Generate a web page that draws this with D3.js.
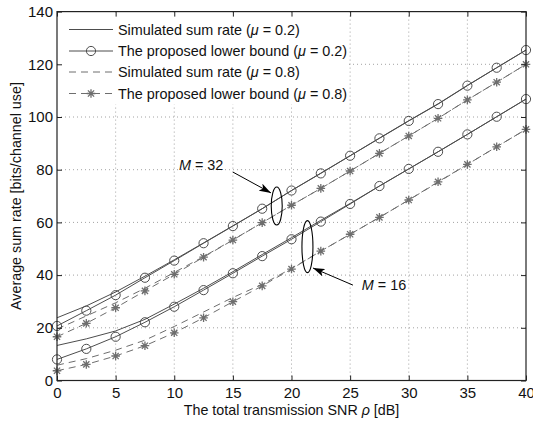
<!DOCTYPE html>
<html><head><meta charset="utf-8">
<script src="https://cdn.jsdelivr.net/npm/d3@7/dist/d3.min.js"></script>
<style>body{margin:0;background:#fff}svg text{font-family:"Liberation Sans",Arial,sans-serif}</style>
</head><body><svg id="c" width="533" height="421"></svg>
<script>
const snr = [0,2.5,5,7.5,10,12.5,15,17.5,20,22.5,25,27.5,30,32.5,35,37.5,40];
const sim02_M32 = [23.8,28.3,33.6,39.6,45.8,52.2,58.7,65.2,72.1,78.7,85.3,92.0,98.6,105.0,112.0,118.7,125.4];
const lb02_M32  = [20.7,26.5,32.4,39.0,45.5,52.1,58.6,65.2,72.1,78.6,85.3,91.9,98.5,104.9,111.9,118.7,125.4];
const sim08_M32 = [19.5,24.5,29.5,35.0,41.0,47.0,53.4,59.9,66.5,72.9,79.5,86.2,92.8,99.5,106.5,113.2,120.0];
const lb08_M32  = [16.6,21.7,27.6,34.0,40.3,46.8,53.3,59.9,66.5,72.9,79.5,86.2,92.8,99.5,106.5,113.2,120.0];
const sim02_M16 = [13.3,15.8,18.8,23.2,29.0,35.0,41.3,47.8,54.2,60.8,67.2,73.8,80.3,86.8,93.4,100.1,106.8];
const lb02_M16  = [8.0,12.0,16.6,22.1,28.0,34.3,40.7,47.2,53.6,60.3,67.0,73.8,80.3,86.8,93.4,100.1,106.8];
const sim08_M16 = [5.8,8.3,11.5,15.3,20.5,26.0,31.5,36.5,42.5,49.1,55.5,61.9,68.5,75.2,82.0,88.7,95.3];
const lb08_M16  = [3.7,6.1,9.3,13.2,18.1,23.8,29.9,35.9,42.3,49.1,55.5,61.9,68.5,75.4,82.0,88.7,95.3];
const xTicks = [0,5,10,15,20,25,30,35,40];
const yTicks = [0,20,40,60,80,100,120,140];
const legendLabels = ["Simulated sum rate (", "The proposed lower bound (", "Simulated sum rate (", "The proposed lower bound ("];
const legendMu = ["0.2","0.2","0.8","0.8"];

const svg = d3.select("#c");
const L=57, R=526, T=11.6, B=380.5;
const x = d3.scaleLinear().domain([0,40]).range([L,R]);
const y = d3.scaleLinear().domain([0,140]).range([B,T]);
const dark="#4d4d4d", grey="#6e6e6e";

// grid
const g = svg.append("g");
g.selectAll(".gx").data(xTicks.slice(1,-1)).enter().append("line")
 .attr("x1",d=>x(d)).attr("x2",d=>x(d)).attr("y1",T).attr("y2",B)
 .attr("stroke","#8a8a8a").attr("stroke-width",0.8).attr("stroke-dasharray","1,3");
g.selectAll(".gy").data(yTicks.slice(1,-1)).enter().append("line")
 .attr("x1",L).attr("x2",R).attr("y1",d=>y(d)).attr("y2",d=>y(d))
 .attr("stroke","#8a8a8a").attr("stroke-width",0.8).attr("stroke-dasharray","1,3");

// legend background
svg.append("rect").attr("x",L+1).attr("y",T+1).attr("width",290).attr("height",92).attr("fill","#fff");

const line = d3.line().x((d,i)=>x(snr[i])).y(d=>y(d));
function drawLine(data,color,dash,w){
  svg.append("path").datum(data).attr("d",line).attr("fill","none")
   .attr("stroke",color).attr("stroke-width",w||1.1).attr("stroke-dasharray",dash||null);
}
function circle(sel,cx,cy){
  sel.append("circle").attr("cx",cx).attr("cy",cy).attr("r",4.6)
   .attr("fill","none").attr("stroke",dark).attr("stroke-width",1);
}
function star(sel,cx,cy){
  const r=4.3, d=r*0.72;
  const p=`M${cx-r},${cy}L${cx+r},${cy}M${cx},${cy-r}L${cx},${cy+r}M${cx-d},${cy-d}L${cx+d},${cy+d}M${cx-d},${cy+d}L${cx+d},${cy-d}`;
  sel.append("path").attr("d",p).attr("stroke",grey).attr("stroke-width",1.3).attr("fill","none");
}
const dashA="7,5";
[[sim02_M32,lb02_M32,sim08_M32,lb08_M32],[sim02_M16,lb02_M16,sim08_M16,lb08_M16]].forEach(([s2,l2,s8,l8])=>{
  drawLine(s2,dark,null,1);
  drawLine(l2,dark,null,1);
  drawLine(s8,grey,dashA,1);
  drawLine(l8,grey,dashA,1);
  const m=svg.append("g");
  l2.forEach((v,i)=>circle(m,x(snr[i]),y(v)));
  l8.forEach((v,i)=>star(m,x(snr[i]),y(v)));
});

// axes box
svg.append("rect").attr("x",L).attr("y",T).attr("width",R-L).attr("height",B-T)
 .attr("fill","none").attr("stroke","#222").attr("stroke-width",1.2);
const ax=svg.append("g").attr("transform",`translate(0,${B})`)
 .call(d3.axisBottom(x).tickValues(xTicks).tickSize(-5).tickPadding(7).tickFormat(d3.format("d")));
const ay=svg.append("g").attr("transform",`translate(${L},0)`)
 .call(d3.axisLeft(y).tickValues(yTicks).tickSize(-5).tickPadding(4).tickFormat(d3.format("d")));
const axT=svg.append("g").attr("transform",`translate(0,${T})`)
 .call(d3.axisTop(x).tickValues(xTicks).tickSize(-5).tickFormat(""));
const ayR=svg.append("g").attr("transform",`translate(${R},0)`)
 .call(d3.axisRight(y).tickValues(yTicks).tickSize(-5).tickFormat(""));
[ax,ay,axT,ayR].forEach(a=>{a.select(".domain").remove();a.selectAll("line").attr("stroke","#222");
  a.selectAll("text").attr("font-size","15px").attr("fill","#111").style("font-family","Liberation Sans, Arial, sans-serif");});

// axis labels
const xl=svg.append("text").attr("x",(L+R)/2).attr("y",415).attr("text-anchor","middle").attr("font-size","14.3px").attr("fill","#111");
xl.append("tspan").text("The total transmission SNR ");
xl.append("tspan").attr("font-style","italic").text("ρ");
xl.append("tspan").text(" [dB]");
svg.append("text").attr("transform",`translate(21,${(T+B)/2}) rotate(-90)`).attr("text-anchor","middle")
 .attr("font-size","14.3px").attr("fill","#111").text("Average sum rate [bits/channel use]");

// legend
const legY=[29.5,51,72,93.5];
const lg=svg.append("g");
legY.forEach((ly,i)=>{
  const dash = i>=2 ? dashA : null;
  const col = i>=2 ? grey : dark;
  lg.append("line").attr("x1",69).attr("x2",113).attr("y1",ly).attr("y2",ly)
    .attr("stroke",col).attr("stroke-width",1).attr("stroke-dasharray",dash);
  if(i===1) circle(lg,91,ly);
  if(i===3) star(lg,91,ly);
  const t=lg.append("text").attr("x",118).attr("y",ly+5).attr("font-size","14.4px").attr("fill","#111");
  t.append("tspan").text(legendLabels[i]);
  t.append("tspan").attr("font-style","italic").text("μ");
  t.append("tspan").text(" = "+legendMu[i]+")");
});

// annotations
svg.append("defs").append("marker").attr("id","ah").attr("viewBox","0 0 12 8").attr("refX",12).attr("refY",4)
 .attr("markerWidth",12).attr("markerHeight",8).attr("markerUnits","userSpaceOnUse").attr("orient","auto")
 .append("path").attr("d","M0,0L12,4L0,8L3,4Z").attr("fill","#000");
const ann=[
  {ex:18.74,ey:66.2,rx:5.5,ry:19,tx:15.0,ty:79.1,hx:18.25,hy:71.2,lx:10.4,ly:79.7,num:"32"},
  {ex:21.36,ey:50.8,rx:5.5,ry:26,tx:25.24,ty:36.2,hx:21.83,hy:42.7,lx:26.0,ly:34.3,num:"16"}
];
ann.forEach(a=>{
  svg.append("ellipse").attr("cx",x(a.ex)).attr("cy",y(a.ey)).attr("rx",a.rx).attr("ry",a.ry)
   .attr("fill","none").attr("stroke","#000").attr("stroke-width",1.1);
  svg.append("line").attr("x1",x(a.tx)).attr("y1",y(a.ty)).attr("x2",x(a.hx)).attr("y2",y(a.hy))
   .attr("stroke","#000").attr("stroke-width",1).attr("marker-end","url(#ah)");
  const t=svg.append("text").attr("x",x(a.lx)).attr("y",y(a.ly)).attr("font-size","14.4px").attr("fill","#111");
  t.append("tspan").attr("font-style","italic").text("M");
  t.append("tspan").text(" = "+a.num);
});
</script></body></html>
